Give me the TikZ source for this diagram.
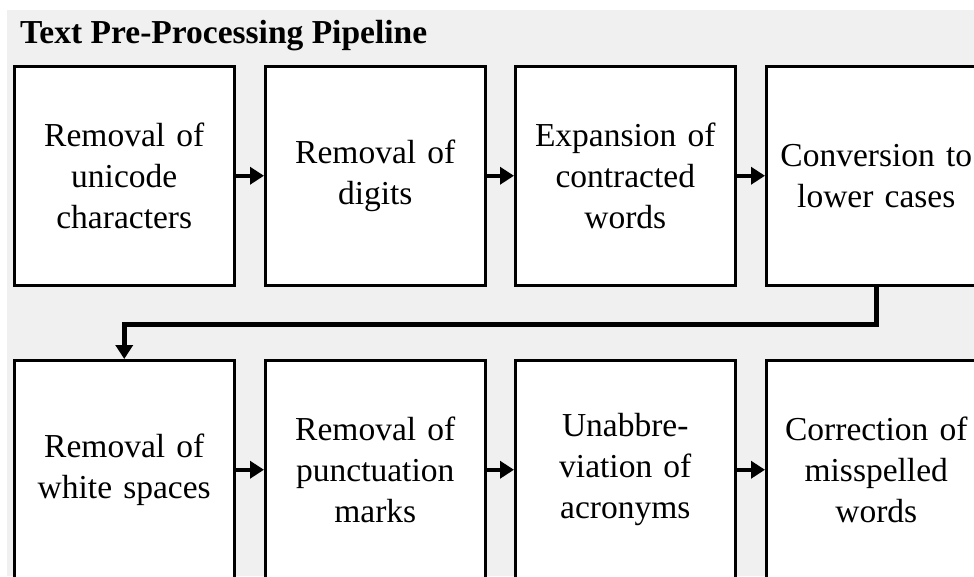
\documentclass[tikz,border=0pt]{standalone}
\usepackage{fontspec}
\setmainfont{Liberation Serif}
\usetikzlibrary{arrows.meta}
\begin{document}
\begin{tikzpicture}[x=1pt,y=-1pt,
 stepbox/.style={draw=black, line width=2.5pt, fill=white, minimum width=220pt, minimum height=219pt, inner sep=0pt, text width=218pt, align=center, font=\fontsize{33.5}{41}\selectfont, anchor=north west},
 flow/.style={line width=4.5pt, -{Triangle[length=14pt,width=17pt]}}]
\clip (0,0) rectangle (974,576);
\fill[white] (0,0) rectangle (974,576);
\fill[gray!12] (7,10) rectangle (974,576);
\node[anchor=base west, inner sep=0pt, font=\bfseries\fontsize{33.5}{40}\selectfont] (title) at (20,43) {Text Pre-Processing Pipeline};
\node[stepbox] (b1) at (13,65) {Removal of\\unicode\\characters};
\node[stepbox] (b2) at (264,65) {Removal of\\digits};
\node[stepbox] (b3) at (514,65) {Expansion of\\contracted\\words};
\node[stepbox] (b4) at (765,65) {Conversion to\\lower cases};
\node[stepbox] (b5) at (13,359) {Removal of\\white spaces};
\node[stepbox] (b6) at (264,359) {Removal of\\punctuation\\marks};
\node[stepbox] (b7) at (514,359) {Unabbre-\\viation of\\acronyms};
\node[stepbox] (b8) at (765,359) {Correction of\\misspelled\\words};
\draw[flow] (b1.east) -- (b2.west);
\draw[flow] (b2.east) -- (b3.west);
\draw[flow] (b3.east) -- (b4.west);
\draw[flow] (b4.south) -- ++(0,38) -| (b5.north);
\draw[flow] (b5.east) -- (b6.west);
\draw[flow] (b6.east) -- (b7.west);
\draw[flow] (b7.east) -- (b8.west);
\end{tikzpicture}
\end{document}
